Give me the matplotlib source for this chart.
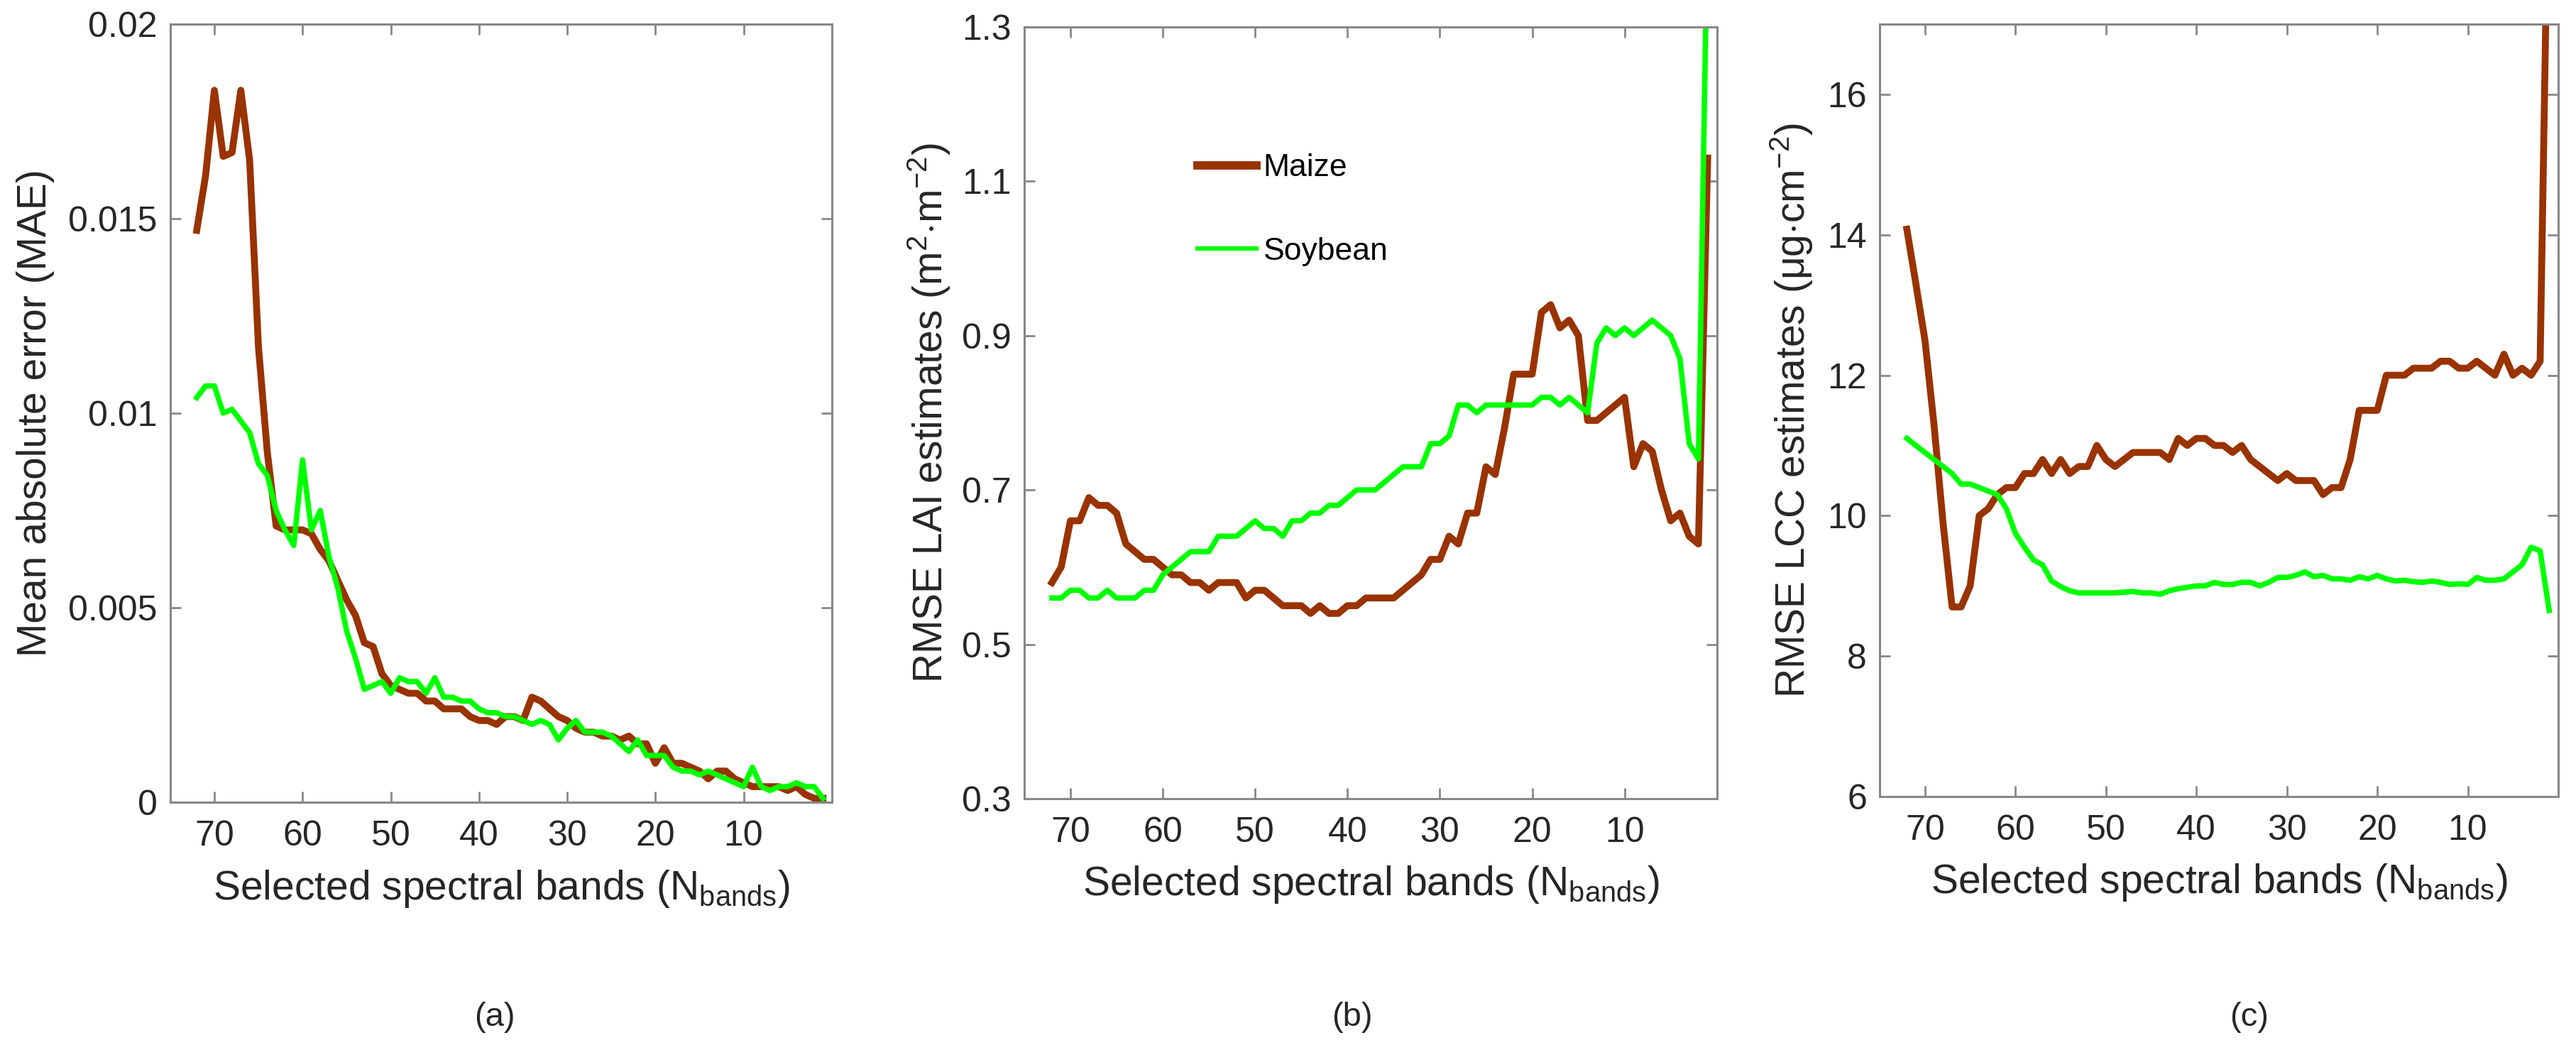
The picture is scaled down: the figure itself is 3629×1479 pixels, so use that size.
import numpy as np
import matplotlib.pyplot as plt

plt.rcParams['font.family'] = ['Liberation Sans', 'DejaVu Sans']
plt.rcParams['mathtext.fontset'] = 'custom'
plt.rcParams['mathtext.rm'] = 'Liberation Sans'
plt.rcParams['mathtext.it'] = 'Liberation Sans:italic'

# numero de bandas selecionadas (de 72 ate 1)
bandas = np.arange(72, 0, -1)

# (a) MAE
mae_milho = [0.0147, 0.0161, 0.0183, 0.0166, 0.0167, 0.0183, 0.0165, 0.0117, 0.0090, 0.0071,
             0.0070, 0.0070, 0.0070, 0.0069, 0.0065, 0.0062, 0.0057, 0.0052, 0.0048, 0.0041,
             0.0040, 0.0033, 0.0030, 0.0029, 0.0028, 0.0028, 0.0026, 0.0026, 0.0024, 0.0024,
             0.0024, 0.0022, 0.0021, 0.0021, 0.0020, 0.0022, 0.0022, 0.0021, 0.0027, 0.0026,
             0.0024, 0.0022, 0.0021, 0.0019, 0.0018, 0.0018, 0.0017, 0.0017, 0.0016, 0.0017,
             0.0015, 0.0015, 0.0010, 0.0014, 0.0010, 0.0010, 0.0009, 0.0008, 0.0006, 0.0008,
             0.0008, 0.0006, 0.0005, 0.0004, 0.0004, 0.0004, 0.0004, 0.0003, 0.0004, 0.0002,
             0.0001, 0.0001]
mae_soja = [0.0104, 0.0107, 0.0107, 0.0100, 0.0101, 0.0098, 0.0095, 0.0087, 0.0084, 0.0075,
            0.0070, 0.0066, 0.0088, 0.0070, 0.0075, 0.0063, 0.0055, 0.0044, 0.0037, 0.0029,
            0.0030, 0.0031, 0.0028, 0.0032, 0.0031, 0.0031, 0.0028, 0.0032, 0.0027, 0.0027,
            0.0026, 0.0026, 0.0024, 0.0023, 0.0023, 0.0022, 0.0022, 0.0021, 0.0020, 0.0021,
            0.0020, 0.0016, 0.0019, 0.0021, 0.0018, 0.0018, 0.0018, 0.0017, 0.0015, 0.0013,
            0.0016, 0.0012, 0.0012, 0.0012, 0.0009, 0.0008, 0.0008, 0.0007, 0.0008, 0.0007,
            0.0006, 0.0005, 0.0004, 0.0009, 0.0004, 0.0003, 0.0004, 0.0004, 0.0005, 0.0004,
            0.0004, 0.0001]

# (b) RMSE LAI
lai_milho = [0.58, 0.60, 0.66, 0.66, 0.69, 0.68, 0.68, 0.67, 0.63, 0.62,
             0.61, 0.61, 0.60, 0.59, 0.59, 0.58, 0.58, 0.57, 0.58, 0.58,
             0.58, 0.56, 0.57, 0.57, 0.56, 0.55, 0.55, 0.55, 0.54, 0.55,
             0.54, 0.54, 0.55, 0.55, 0.56, 0.56, 0.56, 0.56, 0.57, 0.58,
             0.59, 0.61, 0.61, 0.64, 0.63, 0.67, 0.67, 0.73, 0.72, 0.78,
             0.85, 0.85, 0.85, 0.93, 0.94, 0.91, 0.92, 0.90, 0.79, 0.79,
             0.80, 0.81, 0.82, 0.73, 0.76, 0.75, 0.70, 0.66, 0.67, 0.64,
             0.63, 1.13]
lai_soja = [0.56, 0.56, 0.57, 0.57, 0.56, 0.56, 0.57, 0.56, 0.56, 0.56,
            0.57, 0.57, 0.59, 0.60, 0.61, 0.62, 0.62, 0.62, 0.64, 0.64,
            0.64, 0.65, 0.66, 0.65, 0.65, 0.64, 0.66, 0.66, 0.67, 0.67,
            0.68, 0.68, 0.69, 0.70, 0.70, 0.70, 0.71, 0.72, 0.73, 0.73,
            0.73, 0.76, 0.76, 0.77, 0.81, 0.81, 0.80, 0.81, 0.81, 0.81,
            0.81, 0.81, 0.81, 0.82, 0.82, 0.81, 0.82, 0.81, 0.80, 0.89,
            0.91, 0.90, 0.91, 0.90, 0.91, 0.92, 0.91, 0.90, 0.87, 0.76,
            0.74, 1.45]

# (c) RMSE LCC
lcc_milho = [14.08, 13.3, 12.5, 11.3, 9.9, 8.7, 8.7, 9.0, 10.0, 10.1,
             10.3, 10.4, 10.4, 10.6, 10.6, 10.8, 10.6, 10.8, 10.6, 10.7,
             10.7, 11.0, 10.8, 10.7, 10.8, 10.9, 10.9, 10.9, 10.9, 10.8,
             11.1, 11.0, 11.1, 11.1, 11.0, 11.0, 10.9, 11.0, 10.8, 10.7,
             10.6, 10.5, 10.6, 10.5, 10.5, 10.5, 10.3, 10.4, 10.4, 10.8,
             11.5, 11.5, 11.5, 12.0, 12.0, 12.0, 12.1, 12.1, 12.1, 12.2,
             12.2, 12.1, 12.1, 12.2, 12.1, 12.0, 12.3, 12.0, 12.1, 12.0,
             12.2, 20.0]
lcc_soja = [11.1, 11.0, 10.9, 10.8, 10.7, 10.6, 10.45, 10.45, 10.4, 10.35,
            10.3, 10.1, 9.75, 9.55, 9.37, 9.3, 9.07, 8.99, 8.93, 8.9,
            8.9, 8.9, 8.9, 8.9, 8.91, 8.92, 8.9, 8.9, 8.88, 8.93,
            8.96, 8.98, 9.0, 9.0, 9.05, 9.02, 9.02, 9.05, 9.05, 9.0,
            9.05, 9.12, 9.12, 9.15, 9.2, 9.13, 9.15, 9.1, 9.1, 9.08,
            9.13, 9.1, 9.15, 9.1, 9.07, 9.08, 9.06, 9.05, 9.07, 9.05,
            9.02, 9.03, 9.02, 9.12, 9.08, 9.08, 9.1, 9.2, 9.3, 9.55,
            9.5, 8.65]

cor_milho = '#993300'
cor_soja = '#00ff00'
cor_eixo = '#878787'
cor_texto = '#262626'

xlabel = 'Selected spectral bands (N$_{\\mathrm{bands}}$)'

paineis = [
    dict(pos=[0.0661, 0.2360, 0.2568, 0.7410], milho=mae_milho, soja=mae_soja,
         ylim=(0, 0.02), yticks=[0, 0.005, 0.01, 0.015, 0.02],
         yticklabels=['0', '0.005', '0.01', '0.015', '0.02'],
         ylabel='Mean absolute error (MAE)', ylx=-0.175, letra='(a)', lx=0.192),
    dict(pos=[0.3976, 0.2394, 0.2689, 0.7350], milho=lai_milho, soja=lai_soja,
         ylim=(0.3, 1.3), yticks=[0.3, 0.5, 0.7, 0.9, 1.1, 1.3],
         yticklabels=['0.3', '0.5', '0.7', '0.9', '1.1', '1.3'],
         ylabel='RMSE LAI estimates (m$^{2}$$\\cdot$m$^{-2}$)', ylx=-0.103, letra='(b)', lx=0.525),
    dict(pos=[0.7297, 0.2414, 0.2634, 0.7356], milho=lcc_milho, soja=lcc_soja,
         ylim=(6, 17), yticks=[6, 8, 10, 12, 14, 16],
         yticklabels=['6', '8', '10', '12', '14', '16'],
         ylabel='RMSE LCC estimates (μg$\\cdot$cm$^{-2}$)', ylx=-0.095, letra='(c)', lx=0.873),
]

fig = plt.figure(figsize=(36.29, 14.79), dpi=100)

for i, p in enumerate(paineis):
    ax = fig.add_axes(p['pos'])
    ax.plot(bandas, p['milho'], color=cor_milho, lw=7, label='Maize')
    ax.plot(bandas, p['soja'], color=cor_soja, lw=5.5, label='Soybean')
    ax.set_xlim(75, 0)
    ax.set_ylim(*p['ylim'])
    ax.set_xticks([70, 60, 50, 40, 30, 20, 10])
    ax.set_yticks(p['yticks'])
    ax.set_yticklabels(p['yticklabels'])
    ax.tick_params(direction='in', top=True, right=True, length=11, width=2,
                   color=cor_eixo, labelcolor=cor_texto, labelsize=36)
    ax.tick_params(axis='x', pad=18)
    ax.tick_params(axis='y', pad=13)
    for s in ax.spines.values():
        s.set_color(cor_eixo)
        s.set_linewidth(2.2)
    ax.set_xlabel(xlabel, fontsize=41, color=cor_texto)
    ax.xaxis.set_label_coords(0.5, -0.085)
    ax.set_ylabel(p['ylabel'], fontsize=41, color=cor_texto)
    ax.yaxis.set_label_coords(p['ylx'], 0.5)
    fig.text(p['lx'], 0.031, p['letra'], fontsize=34, color=cor_texto, ha='center', va='center')
    if i == 1:
        leg = ax.legend(frameon=False, loc='upper left', bbox_to_anchor=(0.25, 0.836),
                        fontsize=32, handlelength=1.87, handletextpad=0.22, labelspacing=1.72,
                        borderpad=0, borderaxespad=0)
        for linha, lw in zip(leg.get_lines(), [8.5, 4.5]):
            linha.set_linewidth(lw)

fig.savefig('out.png', dpi=100, facecolor='white')
